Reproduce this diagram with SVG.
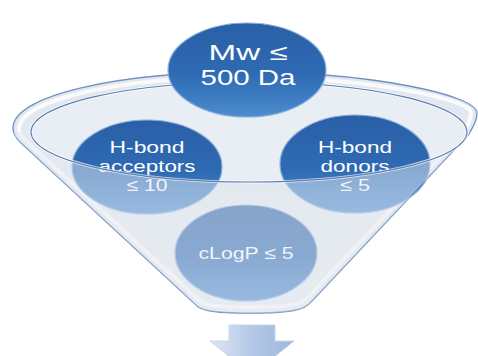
<svg xmlns="http://www.w3.org/2000/svg" width="478" height="356" viewBox="0 0 478 356">
<defs>
<linearGradient id="gDark" x1="0" y1="0" x2="0" y2="1">
<stop offset="0" stop-color="#2a5fa6"/>
<stop offset="0.55" stop-color="#2e6bb4"/>
<stop offset="1" stop-color="#4d8ccf"/>
</linearGradient>
<linearGradient id="gFunnel" x1="0" y1="0" x2="0" y2="1">
<stop offset="0" stop-color="#e1e7ef"/>
<stop offset="1" stop-color="#e9edf2"/>
</linearGradient>
<linearGradient id="gArrow" x1="0" y1="0" x2="1" y2="0">
<stop offset="0" stop-color="#dde7f4"/>
<stop offset="0.5" stop-color="#b3c8e6"/>
<stop offset="1" stop-color="#9db7dd"/>
</linearGradient>
<clipPath id="funnelClip">
<path d="M13,128 C13,95 120,72 245,72 C370,72 477,95 477,113 C477,120 474,125 469,134 L311,302 C304,310 292,313 250,313 C210,313 200,310 195,304 L20,142 C14,136 13,132 13,128 Z"/>
</clipPath>
<style>
.circ{stroke:#86aedc;stroke-width:1.2}
.t{font-family:"Liberation Sans",Arial,sans-serif;fill:#ffffff;text-anchor:middle}
</style>
</defs>
<g id="funnel">
<path d="M13,128 C13,95 120,72 245,72 C370,72 477,95 477,113 C477,120 474,125 469,134 L311,302 C304,310 292,313 250,313 C210,313 200,310 195,304 L20,142 C14,136 13,132 13,128 Z" fill="url(#gFunnel)" stroke="#6f92c2" stroke-width="1.3"/>
<path d="M19,129 C19,99 124,77 245,77 C366,77 471,99 471,113 C471,119 469,124 464,132 L307,298 C300,305 290,307 250,307 C213,307 204,305 199,300 L25,140 C20,135 19,132 19,129 Z" fill="none" stroke="#ffffff" stroke-width="4" stroke-opacity="0.8"/>
<ellipse cx="249" cy="132" rx="218" ry="50" fill="#e9eef5"/>
</g>
<g id="acceptors">
<ellipse class="circ" cx="147" cy="167" rx="75" ry="47" fill="url(#gDark)"/>
<text class="t" font-size="17"><tspan x="147" y="153" textLength="75" lengthAdjust="spacingAndGlyphs">H-bond</tspan><tspan x="147" y="172" textLength="97" lengthAdjust="spacingAndGlyphs">acceptors</tspan><tspan x="147" y="191" textLength="41" lengthAdjust="spacingAndGlyphs">≤ 10</tspan></text>
</g>
<g id="donors">
<ellipse class="circ" cx="355" cy="164" rx="75" ry="49" fill="url(#gDark)"/>
<text class="t" font-size="17"><tspan x="355" y="153" textLength="74" lengthAdjust="spacingAndGlyphs">H-bond</tspan><tspan x="355" y="172" textLength="69" lengthAdjust="spacingAndGlyphs">donors</tspan><tspan x="355" y="191" textLength="30" lengthAdjust="spacingAndGlyphs">≤ 5</tspan></text>
</g>
<g id="clogp">
<ellipse class="circ" cx="246" cy="253" rx="71" ry="48" fill="url(#gDark)"/>
<text class="t" font-size="17" x="246" y="259" textLength="95" lengthAdjust="spacingAndGlyphs">cLogP ≤ 5</text>
</g>
<g id="funnel-front">
<path clip-path="url(#funnelClip)" d="M0,132 L31,132 A218,50 0 0 0 467,132 L478,132 L478,356 L0,356 Z" fill="#e3e8ef" fill-opacity="0.5"/>
<ellipse cx="249" cy="132" rx="218" ry="50" fill="none" stroke="#ffffff" stroke-width="3" stroke-opacity="0.7"/>
<ellipse cx="249" cy="132" rx="218" ry="50" fill="none" stroke="#5a7fb2" stroke-width="1.1"/>
</g>
<g id="mw">
<ellipse class="circ" cx="247" cy="70" rx="79" ry="47" fill="url(#gDark)"/>
<text class="t" font-size="22"><tspan x="248" y="60" textLength="79" lengthAdjust="spacingAndGlyphs">Mw ≤</tspan><tspan x="248" y="85" textLength="95" lengthAdjust="spacingAndGlyphs">500 Da</tspan></text>
</g>
<g id="connectors">
<path d="M229,325 L275,325 L275,341 L294,341 L252,375 L210,341 L229,341 Z" fill="url(#gArrow)" stroke="#c8d6ea" stroke-width="1"/>
</g>
</svg>
